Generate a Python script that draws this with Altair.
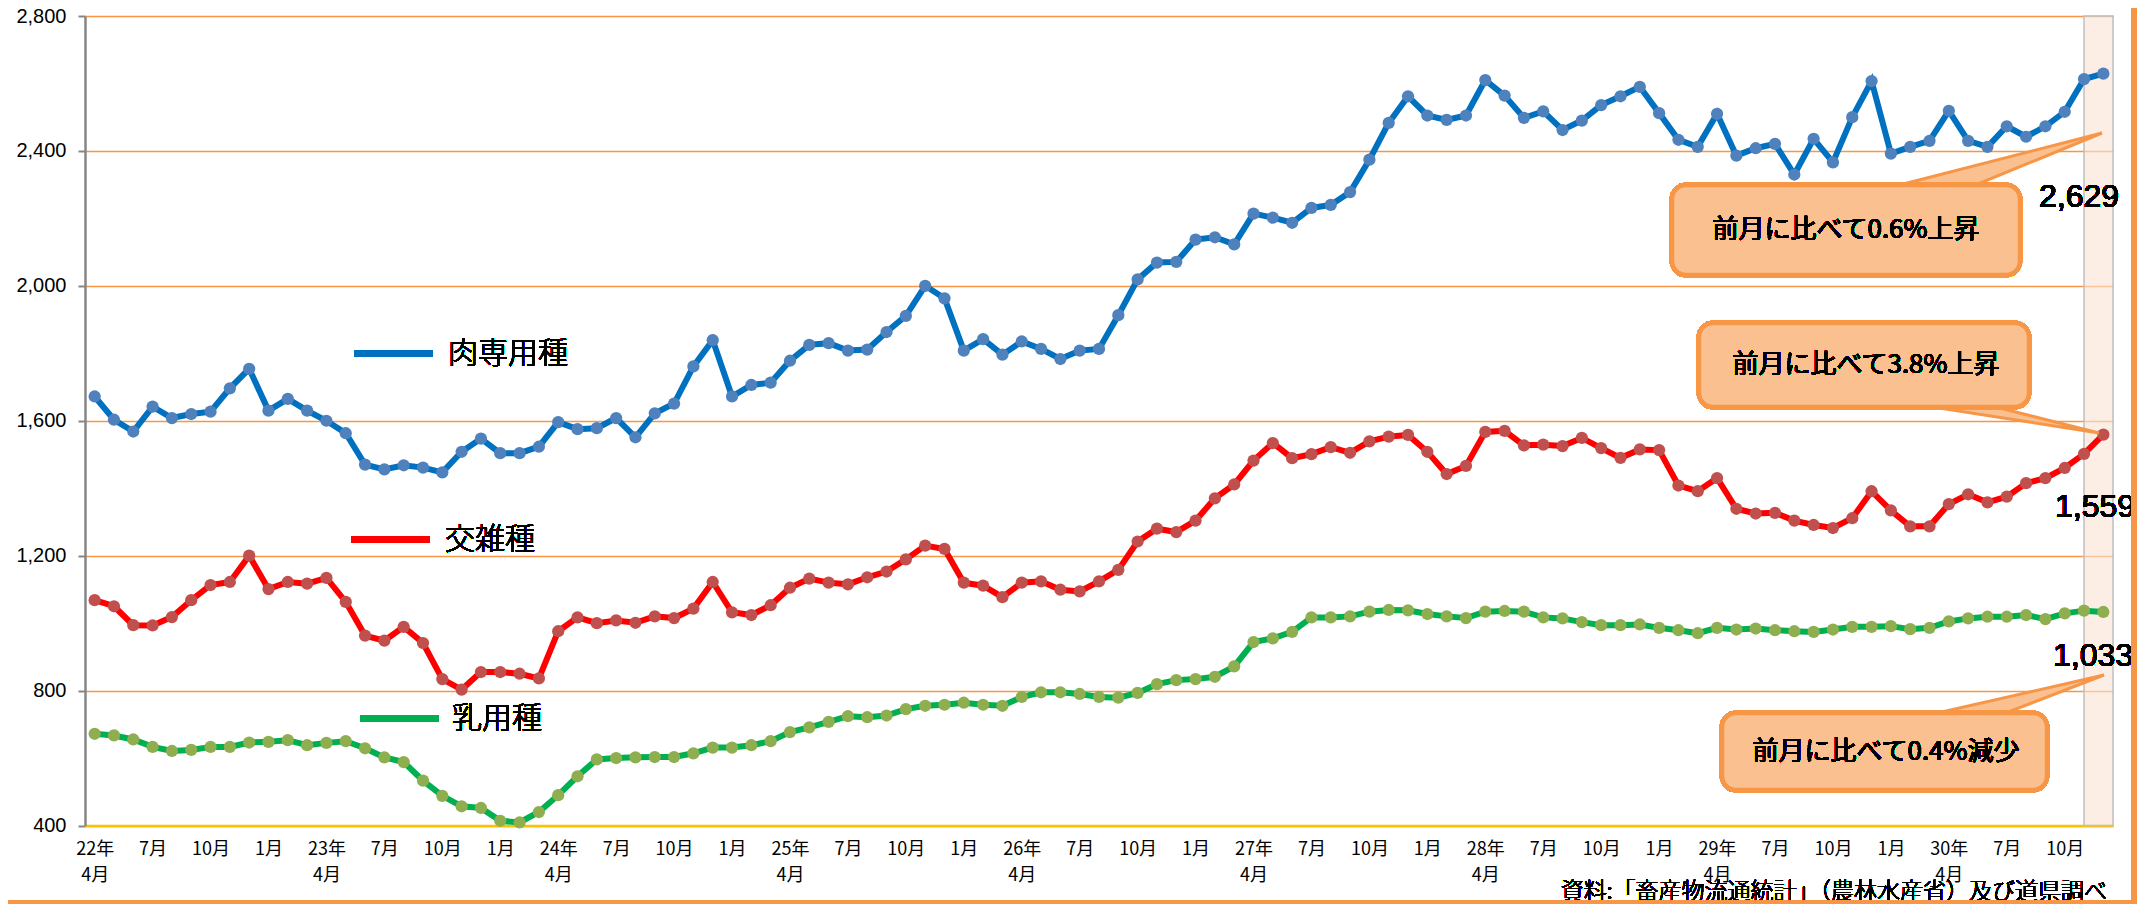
import json
import altair as alt
import pandas as pd

# ---------------- data ----------------
series_names = ["肉専用種", "交雑種", "乳用種"]

beef = [
    1672, 1603, 1568, 1642, 1608, 1620, 1627, 1696, 1754, 1630, 1665, 1630,
    1600, 1563, 1470, 1456, 1468, 1461, 1447, 1508, 1547, 1504, 1504, 1523,
    1596, 1575, 1578, 1608, 1551, 1622, 1651, 1761, 1839, 1672, 1706, 1713,
    1778, 1825, 1830, 1808, 1811, 1863, 1911, 2000, 1963, 1808, 1842, 1796,
    1835, 1813, 1783, 1808, 1813, 1913, 2019, 2069, 2071, 2137, 2144, 2123,
    2214, 2202, 2187, 2231, 2240, 2278, 2374, 2483, 2562, 2505, 2492, 2505,
    2610, 2564, 2498, 2517, 2462, 2490, 2536, 2562, 2590, 2512, 2433, 2412,
    2510, 2386, 2408, 2421, 2330, 2436, 2366, 2500, 2607, 2392, 2412, 2430,
    2519, 2430, 2412, 2473, 2442, 2473, 2516, 2613, 2629,
]
cross = [
    1068, 1050, 994, 993, 1018, 1068, 1113, 1122, 1200, 1101, 1122, 1117,
    1134, 1063, 963, 948, 989, 941, 834, 803, 855, 855, 850, 836,
    976, 1017, 1000, 1008, 1001, 1020, 1015, 1043, 1122, 1032, 1024, 1053,
    1105, 1132, 1120, 1115, 1136, 1153, 1189, 1230, 1220, 1120, 1111, 1077,
    1120, 1124, 1099, 1094, 1124, 1158, 1242, 1280, 1270, 1304, 1370, 1411,
    1482, 1534, 1489, 1501, 1522, 1505, 1539, 1553, 1558, 1508, 1442, 1466,
    1567, 1570, 1527, 1529, 1525, 1549, 1519, 1490, 1515, 1513, 1408, 1391,
    1430, 1339, 1325, 1327, 1304, 1291, 1282, 1311, 1391, 1334, 1287, 1287,
    1353, 1382, 1358, 1375, 1415, 1430, 1460, 1502, 1559,
]
dairy = [
    672, 667, 655, 633, 621, 624, 633, 633, 646, 648, 653, 638,
    645, 650, 629, 602, 588, 533, 488, 457, 452, 414, 409, 440,
    490, 546, 596, 600, 602, 603, 603, 614, 631, 631, 638, 650,
    677, 691, 707, 724, 721, 726, 745, 755, 758, 764, 758, 755,
    781, 795, 795, 790, 781, 779, 793, 819, 831, 834, 841, 872,
    944, 955, 974, 1017, 1017, 1020, 1034, 1039, 1038, 1027, 1020, 1015,
    1034, 1036, 1034, 1017, 1014, 1003, 994, 994, 996, 986, 979, 970,
    986, 981, 984, 979, 976, 974, 981, 989, 989, 991, 982, 986,
    1005, 1014, 1019, 1019, 1024, 1012, 1029, 1037, 1033,
]

x_tick_labels = [
    "22年|4月", "7月", "10月", "1月",
    "23年|4月", "7月", "10月", "1月",
    "24年|4月", "7月", "10月", "1月",
    "25年|4月", "7月", "10月", "1月",
    "26年|4月", "7月", "10月", "1月",
    "27年|4月", "7月", "10月", "1月",
    "28年|4月", "7月", "10月", "1月",
    "29年|4月", "7月", "10月", "1月",
    "30年|4月", "7月", "10月",
]
tick_idx = [3 * k for k in range(len(x_tick_labels))]
y_ticks = [400, 800, 1200, 1600, 2000, 2400, 2800]

end_labels = ["2,629", "1,559", "1,033"]
callout_texts = ["前月に比べて0.6%上昇", "前月に比べて3.8%上昇", "前月に比べて0.4%減少"]
source_text = "資料:「畜産物流通統計」（農林水産省）及び道県調べ"

line_colors = ["#0070C0", "#FF0000", "#00B050"]
point_colors = ["#4F81BD", "#C0504D", "#8FAE4F"]

rows = []
for name, vals in zip(series_names, [beef, cross, dairy]):
    for i, v in enumerate(vals):
        rows.append({"series": name, "t": i, "value": v})
df = pd.DataFrame(rows)
n = len(beef)

# ---------------- layout ----------------
W, H = 2028, 809.5
JP = "Noto Sans CJK JP"
LAT = "Liberation Sans"
ORANGE = "#F79646"
BOXFILL = "#FAC090"

x_scale = alt.Scale(domain=[-0.5, n - 0.5], nice=False, zero=False)
y_scale = alt.Scale(domain=[400, 2800], nice=False, zero=False)

label_expr = ("split(" + json.dumps(x_tick_labels, ensure_ascii=False)
              + "[round(datum.value / 3)], '|')")

x_axis = alt.Axis(values=tick_idx, labelExpr=label_expr, grid=False, ticks=False,
                  domainColor="#FFC000", domainWidth=2.5, labelFont=JP,
                  labelFontSize=18, labelFontWeight="normal", labelLineHeight=26,
                  labelPadding=15, labelBaseline="top", labelAlign="center",
                  labelColor="#000000", labelOverlap=False, labelFlush=False,
                  title=None)
y_axis = alt.Axis(values=y_ticks, labelExpr="format(datum.value, ',')",
                  gridColor=ORANGE, gridWidth=1.5,
                  domainColor="#868686", domainWidth=2.5, tickColor="#868686",
                  tickSize=7, tickWidth=2, labelFont=LAT, labelFontSize=20,
                  labelFontWeight="normal", labelPadding=12, labelColor="#000000",
                  title=None)

# highlight band on the latest month
band_df = pd.DataFrame({"t": [n - 2], "t2": [n - 0.5],
                        "value": [400], "value2": [2800]})
band = alt.Chart(band_df).mark_rect(
    fill="#FBE3D3", fillOpacity=0.6, stroke="#BFBFBF", strokeWidth=1.5
).encode(
    x=alt.X("t:Q", scale=x_scale, axis=x_axis),
    x2="t2:Q",
    y=alt.Y("value:Q", scale=y_scale, axis=y_axis),
    y2="value2:Q",
)

base = alt.Chart(df)
lines = base.mark_line(strokeWidth=6).encode(
    x=alt.X("t:Q", scale=x_scale, axis=x_axis),
    y=alt.Y("value:Q", scale=y_scale, axis=y_axis),
    color=alt.Color("series:N", scale=alt.Scale(domain=series_names, range=line_colors), legend=None),
    detail="series:N",
)
points = base.mark_point(filled=True, size=150, opacity=1).encode(
    x=alt.X("t:Q", scale=x_scale, axis=x_axis),
    y=alt.Y("value:Q", scale=y_scale, axis=y_axis),
    fill=alt.Fill("series:N", scale=alt.Scale(domain=series_names, range=point_colors), legend=None),
)

layers = [band, lines, points]

# inline legend
legend_pos = [(269, 348, 337.5, 363), (266, 345, 523.5, 360), (275, 354, 702.5, 367)]
for (x1, x2, yy, tx), name, col in zip(legend_pos, series_names, line_colors):
    layers.append(alt.Chart(df).mark_rule(strokeWidth=6, color=col).encode(
        x=alt.value(x1), x2=alt.value(x2), y=alt.value(yy)))
    layers.append(alt.Chart(df).mark_text(
        align="left", baseline="middle", font=JP, fontSize=30, fontWeight=300,
        color="#000000"
    ).encode(x=alt.value(tx), y=alt.value(yy), text=alt.value(name)))

# callouts: box (x1, x2, y1, y2), wedge polygon, text center
callouts = [
    ((1587, 1935, 169, 259), [(1791, 175), (1876, 175), (2017, 117)], (1761, 214)),
    ((1614, 1944, 307, 391), [(1809, 385), (1887, 385), (2014, 417)], (1781, 349)),
    ((1637, 1962, 697, 774), [(1826, 703), (1905, 703), (2019, 659)], (1801, 735.5)),
]
for (box, wedge, tc), txt in zip(callouts, callout_texts):
    wdf = pd.DataFrame({"px": [p[0] for p in wedge], "py": [p[1] for p in wedge],
                        "o": list(range(len(wedge)))})
    layers.append(alt.Chart(wdf).mark_line(
        interpolate="linear-closed", fill=BOXFILL, stroke=ORANGE, strokeWidth=3,
        strokeJoin="miter"
    ).encode(
        x=alt.X("px:Q", scale=None, axis=None),
        y=alt.Y("py:Q", scale=None, axis=None),
        order="o:Q"))
    layers.append(alt.Chart(df).mark_rect(
        fill=BOXFILL, stroke=ORANGE, strokeWidth=4.5, cornerRadius=14
    ).encode(x=alt.value(box[0]), x2=alt.value(box[1]),
             y=alt.value(box[2]), y2=alt.value(box[3])))
    layers.append(alt.Chart(df).mark_text(
        align="center", baseline="middle", font=JP, fontSize=26, fontWeight=400,
        color="#000000"
    ).encode(x=alt.value(tc[0]), y=alt.value(tc[1]), text=alt.value(txt)))

# end value labels
end_pos = [(1994, 180.5), (2010, 491), (2008, 640)]
for (ex, ey), lab in zip(end_pos, end_labels):
    layers.append(alt.Chart(df).mark_text(
        align="center", baseline="middle", font=LAT, fontSize=32, fontWeight=400,
        color="#000000"
    ).encode(x=alt.value(ex), y=alt.value(ey), text=alt.value(lab)))

# source note
layers.append(alt.Chart(df).mark_text(
    align="right", baseline="alphabetic", font=JP, fontSize=23, fontWeight=300,
    color="#000000"
).encode(x=alt.value(2022), y=alt.value(883), text=alt.value(source_text)))

# outer frame (right & bottom)
layers.append(alt.Chart(df).mark_rule(strokeWidth=6, color=ORANGE).encode(
    x=alt.value(2049), y=alt.value(-9), y2=alt.value(889)))
layers.append(alt.Chart(df).mark_rule(strokeWidth=3.5, color=ORANGE).encode(
    x=alt.value(-77), x2=alt.value(2052), y=alt.value(886.3)))

chart = alt.layer(*layers).properties(
    width=W, height=H,
    autosize=alt.AutoSizeParams(type="none"),
    padding={"left": 77, "top": 8, "right": 24, "bottom": 78.5},
    background="#FFFFFF",
).configure_view(stroke=None)

chart.save("out.html", embed_options={"renderer": "svg", "actions": False})
